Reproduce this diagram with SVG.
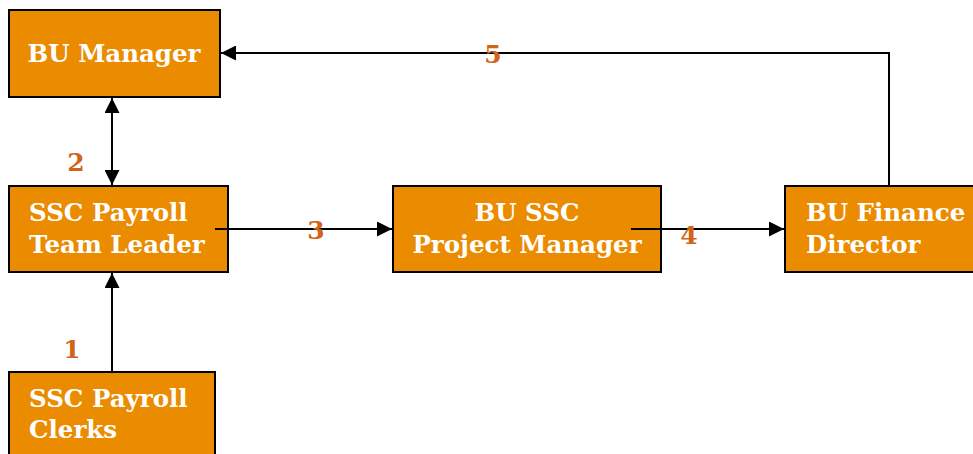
<svg xmlns="http://www.w3.org/2000/svg" width="973" height="454" viewBox="0 0 973 454">
<style>
.box{fill:#EA8B00;stroke:#000;stroke-width:2}
.t{font-family:"DejaVu Serif","Liberation Serif",serif;font-weight:bold;font-size:24.5px;fill:#fff}
.n{font-family:"DejaVu Serif","Liberation Serif",serif;font-weight:bold;font-size:25px;fill:#D0651A}
.c{stroke:#000;stroke-width:2;fill:none}
</style>
<defs>
<marker id="ah" viewBox="0 0 10 10" refX="10" refY="5" markerWidth="7.5" markerHeight="7.5" orient="auto-start-reverse" markerUnits="strokeWidth">
<path d="M0,0 L10,5 L0,10 z" fill="#000"/>
</marker>
</defs>
<rect width="973" height="454" fill="#fff"/>
<g id="bu-manager">
<rect class="box" x="9" y="10" width="211" height="87"/>
<text class="t" x="114" y="62" text-anchor="middle">BU Manager</text>
</g>
<g id="team-leader">
<rect class="box" x="9" y="186" width="219" height="86"/>
<text class="t" x="29" y="221">SSC Payroll</text>
<text class="t" x="29" y="253">Team Leader</text>
</g>
<g id="project-manager">
<rect class="box" x="393" y="186" width="268" height="86"/>
<text class="t" x="527" y="221" text-anchor="middle">BU SSC</text>
<text class="t" x="527" y="253" text-anchor="middle">Project Manager</text>
</g>
<g id="finance-director">
<rect class="box" x="785" y="186" width="195" height="86"/>
<text class="t" x="806" y="221">BU Finance</text>
<text class="t" x="806" y="253">Director</text>
</g>
<g id="clerks">
<rect class="box" x="9" y="372" width="206" height="90"/>
<text class="t" x="29" y="407">SSC Payroll</text>
<text class="t" x="29" y="438">Clerks</text>
</g>
<g id="connectors">
<path class="c" d="M889,185 V53 H221" marker-end="url(#ah)"/>
<path class="c" d="M112,98 V185" marker-start="url(#ah)" marker-end="url(#ah)"/>
<path class="c" d="M215,229 H392" marker-end="url(#ah)"/>
<path class="c" d="M631,229 H784" marker-end="url(#ah)"/>
<path class="c" d="M112,371 V273" marker-end="url(#ah)"/>
</g>
<g id="labels">
<text class="n" x="76" y="171" text-anchor="middle">2</text>
<text class="n" x="316" y="239" text-anchor="middle">3</text>
<text class="n" x="689" y="244" text-anchor="middle">4</text>
<text class="n" x="493" y="63" text-anchor="middle">5</text>
<text class="n" x="72" y="358" text-anchor="middle">1</text>
</g>
</svg>
